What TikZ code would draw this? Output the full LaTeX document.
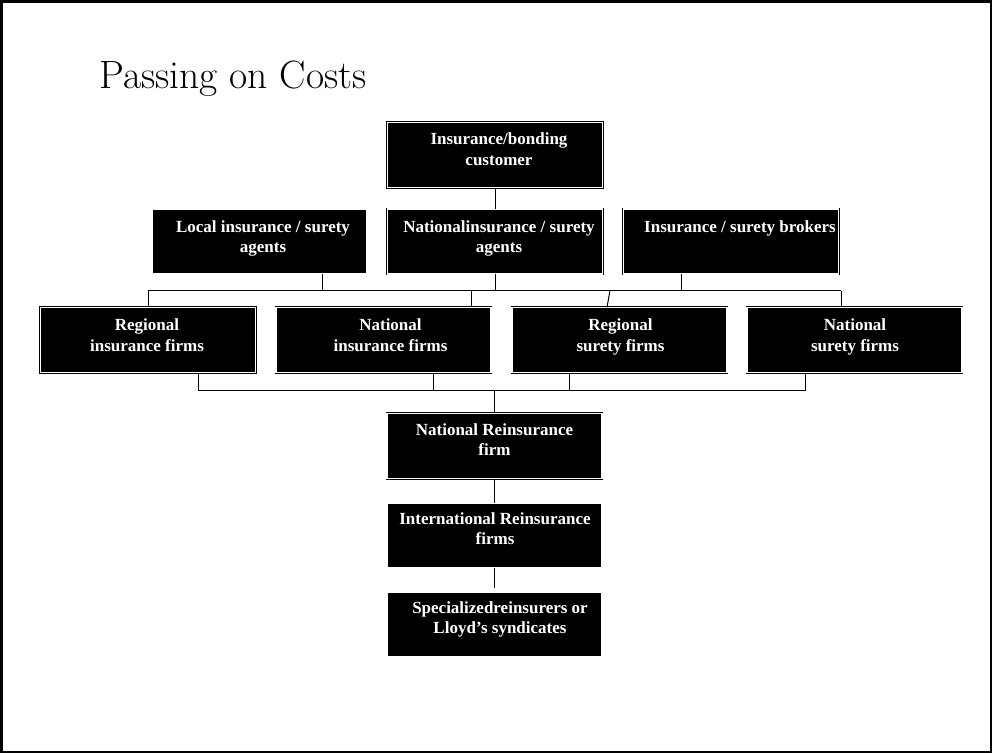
\documentclass[tikz,border=0pt]{standalone}
\usepackage{fontspec}
\newfontfamily\boxfont{Liberation Serif}
\begin{document}
\begin{tikzpicture}[x=1pt,y=-1pt,
  box/.style={draw=black, line width=0.9pt, double=white, double distance=1.5pt,
    fill=black, minimum width=214.6pt, minimum height=64.6pt, inner sep=0pt},
  lbl/.style={text=white, align=center, inner sep=0pt, anchor=base,
    font=\boxfont\bfseries\fontsize{17}{20.5}\selectfont},
  conn/.style={line width=1pt, black}]
\useasboundingbox (0,0) rectangle (992,753);
\draw[line width=2.5pt] (1.25,1.25) rectangle (990.75,751.75);

\node[anchor=base west, inner sep=0pt, font=\fontsize{39.5}{44}\selectfont] (title) at (99,88) {Passing on Costs};

% boxes
\node[box] (cust) at (495,155) {};
\node[box] (loc)  at (259.5,241.5) {};
\node[box] (nag)  at (495,241.5) {};
\node[box] (brk)  at (731,241.5) {};
\node[box] (rins) at (148,340) {};
\node[box] (nins) at (383.5,340) {};
\node[box] (rsur) at (619.5,340) {};
\node[box] (nsur) at (854.5,340) {};
\node[box] (nre)  at (494.5,446) {};
\node[box] (intl) at (494.5,535.5) {};
\node[box] (spec) at (494.5,624.5) {};

% labels (anchored at the baseline of the last line)
\node[lbl] (tcust) at (499,165) {Insurance/bonding\\customer};
\node[lbl] (tloc)  at (263,252.5) {Local insurance / surety\\agents};
\node[lbl] (tnag)  at (499,252.5) {Nationalinsurance / surety\\agents};
\node[lbl] (tbrk)  at (740,232) {Insurance / surety brokers};
\node[lbl] (trins) at (147,351) {Regional\\insurance firms};
\node[lbl] (tnins) at (390.5,351) {National\\insurance firms};
\node[lbl] (trsur) at (620.5,351) {Regional\\surety firms};
\node[lbl] (tnsur) at (855,351) {National\\surety firms};
\node[lbl] (tnre)  at (494.5,455.5) {National Reinsurance\\firm};
\node[lbl] (tintl) at (495,544.5) {International Reinsurance\\firms};
\node[lbl] (tspec) at (500,633.5) {Specializedreinsurers or\\Lloyd’s syndicates};

% bus coordinates
\coordinate (b1a) at (148,290.5);
\coordinate (b1b) at (841,290.5);
\coordinate (d1) at (322,290.5);
\coordinate (d3) at (681,290.5);
\coordinate (d4) at (471,290.5);
\coordinate (d5) at (610,290.5);
\coordinate (b2a) at (198,390.5);
\coordinate (b2b) at (805,390.5);
\coordinate (e2) at (433,390.5);
\coordinate (e3) at (569,390.5);

% connectors
\draw[conn] (cust.south) -- (nag.north);
\draw[conn] (b1a) -- (b1b);
\draw[conn] (loc.south -| d1) -- (d1);
\draw[conn] (nag.south) -- (nag.south |- b1a);
\draw[conn] (brk.south -| d3) -- (d3);
\draw[conn] (b1a) -- (rins.north);
\draw[conn] (d4) -- (d4 |- nins.north);
\draw[conn] (d5) -- ([xshift=-3pt]d5 |- rsur.north);
\draw[conn] (b1b) -- (b1b |- nsur.north);

\draw[conn] (b2a) -- (b2b);
\draw[conn] (rins.south -| b2a) -- (b2a);
\draw[conn] (nins.south -| e2) -- (e2);
\draw[conn] (rsur.south -| e3) -- (e3);
\draw[conn] (nsur.south -| b2b) -- (b2b);
\draw[conn] (nre.north |- b2a) -- (nre.north);
\draw[conn] (nre.south) -- (intl.north);
\draw[conn, shorten >=4pt] (intl.south) -- (spec.north);
\end{tikzpicture}
\end{document}
